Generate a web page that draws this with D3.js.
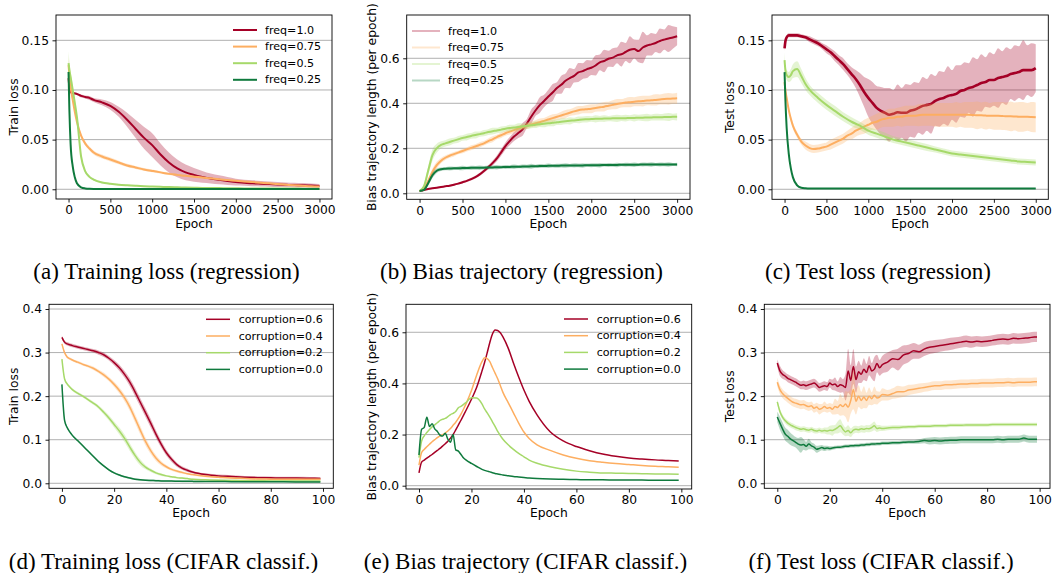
<!DOCTYPE html>
<html>
<head>
<meta charset="utf-8">
<script src="https://cdn.jsdelivr.net/npm/d3@7"></script>
<style>
  body { margin: 0; background: #fff; }
  svg { display: block; }
</style>
</head>
<body>
<div id="chart"></div>
<script>
// ---------- data ----------
var regTicks = [0, 500, 1000, 1500, 2000, 2500, 3000];
var regTickLabels = ["0", "500", "1000", "1500", "2000", "2500", "3000"];
var cifTicks = [0, 20, 40, 60, 80, 100];
var cifTickLabels = ["0", "20", "40", "60", "80", "100"];

var lossTicks = [0, 0.05, 0.10, 0.15];
var lossTickLabels = ["0.00", "0.05", "0.10", "0.15"];
var biasTicks = [0, 0.2, 0.4, 0.6];
var biasTickLabels = ["0.0", "0.2", "0.4", "0.6"];
var cifLossTicks = [0, 0.1, 0.2, 0.3, 0.4];
var cifLossTickLabels = ["0.0", "0.1", "0.2", "0.3", "0.4"];

var freqLabels = ["freq=1.0", "freq=0.75", "freq=0.5", "freq=0.25"];
var corrLabels = ["corruption=0.6", "corruption=0.4", "corruption=0.2", "corruption=0.0"];

var captions = ["(a) Training loss (regression)", "(b) Bias trajectory (regression)", "(c) Test loss (regression)",
  "(d) Training loss (CIFAR classif.)", "(e) Bias trajectory (CIFAR classif.)", "(f) Test loss (CIFAR classif.)"];

// epoch grids
var epochsA = [0,10,25,50,75,100,150,200,250,300,400,500,600,700,800,900,1000,1100,1200,1300,1400,1500,1600,1700,1800,1900,2000,2100,2200,2300,2400,2500,2600,2700,2800,2900,3000];
var epochsDg = [0,10,25,50,75,100,150,200,250,300,1000,2000,3000];
var epochsB = [0,50,100,150,200,250,300,350,400,450,500,550,600,650,700,750,800,850,900,950,1000,1050,1100,1150,1200,1250,1300,1350,1400,1450,1500,1550,1600,1650,1700,1750,1800,1850,1900,1950,2000,2050,2100,2150,2200,2250,2300,2350,2400,2450,2500,2550,2600,2650,2700,2750,2800,2850,2900,2950,3000];
var epochsC = [0,10,25,50,75,100,150,200,250,300,350,400,450,500,550,600,650,700,750,800,850,900,950,1000,1050,1100,1150,1200,1250,1300,1350,1400,1450,1500,1550,1600,1650,1700,1750,1800,1850,1900,1950,2000,2050,2100,2150,2200,2250,2300,2350,2400,2450,2500,2550,2600,2650,2700,2750,2800,2850,2900,2950,3000];
var epochsD = [0,1,2,3,4,6,8,10,12,14,16,18,20,22,24,26,28,30,32,34,36,38,40,42,44,46,48,50,55,60,65,70,75,80,85,90,95,99];
var epochsE = [0,1,2,3,4,5,6,7,8,9,10,11,12,13,14,15,16,17,18,20,22,24,25,26,27,28,29,30,31,32,34,36,38,40,42,45,50,55,60,65,70,75,80,85,90,95,99];
var epochsF = [0,1,2,3,4,5,6,7,8,9,10,11,12,13,14,15,16,17,18,19,20,21,22,23,24,25,26,27,28,29,30,31,32,33,34,35,36,37,38,39,40,42,44,46,48,50,52,54,56,58,60,62,64,66,68,70,72,74,76,78,80,82,84,86,88,90,92,94,96,98,99];

// (a) train loss, regression
var aRed = [0.112,0.103,0.098,0.097,0.0965,0.096,0.094,0.093,0.092,0.090,0.0875,0.084,0.078,0.070,0.061,0.052,0.0445,0.035,0.027,0.021,0.017,0.0145,0.0125,0.0108,0.0095,0.0083,0.0072,0.0066,0.0060,0.0056,0.0052,0.0048,0.0045,0.0042,0.0040,0.0037,0.0034];
var aRedSd = [0.005,0.003,0.002,0.001,0.001,0.001,0.0015,0.0015,0.002,0.002,0.003,0.004,0.005,0.007,0.009,0.011,0.012,0.011,0.010,0.009,0.008,0.007,0.006,0.005,0.0045,0.004,0.0035,0.003,0.003,0.0028,0.0026,0.0025,0.0024,0.0023,0.0022,0.0021,0.002];
var aOrange = [0.125,0.115,0.103,0.090,0.078,0.068,0.054,0.046,0.041,0.037,0.033,0.030,0.027,0.024,0.022,0.020,0.0185,0.017,0.0155,0.0145,0.0135,0.0127,0.0118,0.011,0.010,0.0093,0.0085,0.0078,0.0072,0.0066,0.006,0.0052,0.0046,0.004,0.0035,0.003,0.0027];
var aOrangeSd = [0.008,0.005,0.003,0.002,0.002,0.002,0.002,0.002,0.002,0.002,0.002,0.002,0.0018,0.0016,0.0015,0.0014,0.0013,0.0012,0.0011,0.001,0.001,0.001,0.001,0.0009,0.0009,0.0008,0.0008,0.0008,0.0007,0.0007,0.0007,0.0006,0.0006,0.0006,0.0005,0.0005,0.0005];
var aLgreen = [0.127,0.120,0.113,0.100,0.087,0.073,0.033,0.018,0.0125,0.0098,0.0068,0.0055,0.0046,0.004,0.0035,0.0031,0.0028,0.0025,0.0022,0.002,0.0018,0.0016,0.0014,0.0013,0.0012,0.0011,0.001,0.0009,0.0009,0.0008,0.0008,0.0007,0.0007,0.0007,0.0006,0.0006,0.0006];
var aLgreenSd = [0.012,0.009,0.006,0.004,0.003,0.003,0.002,0.0015,0.001,0.001,0.0008,0.0007,0.0006,0.0006,0.0005,0.0005,0.0005,0.0004,0.0004,0.0004,0.0004,0.0003,0.0003,0.0003,0.0003,0.0003,0.0003,0.0003,0.0003,0.0003,0.0003,0.0003,0.0003,0.0003,0.0003,0.0003,0.0003];
var aDgreen = [0.118,0.080,0.045,0.023,0.012,0.006,0.002,0.0008,0.0004,0.0003,0.0002,0.0002,0.0002];
var aDgreenSd = [0.006,0.005,0.004,0.002,0.001,0.0008,0.0004,0.0002,0.0001,0.0001,0.0001,0.0001,0.0001];

// (b) bias trajectory, regression
var bRed = [0.010,0.015,0.019,0.022,0.025,0.028,0.031,0.034,0.038,0.043,0.049,0.055,0.063,0.072,0.084,0.099,0.116,0.134,0.155,0.182,0.21,0.232,0.252,0.268,0.284,0.31,0.34,0.368,0.392,0.41,0.43,0.448,0.468,0.482,0.50,0.512,0.522,0.537,0.543,0.552,0.558,0.568,0.582,0.588,0.598,0.603,0.613,0.618,0.628,0.638,0.641,0.632,0.648,0.657,0.662,0.668,0.677,0.683,0.688,0.692,0.698];
var bRedSd = [0.002,0.002,0.003,0.003,0.003,0.003,0.003,0.004,0.004,0.004,0.005,0.005,0.006,0.006,0.007,0.008,0.009,0.011,0.013,0.015,0.016,0.018,0.020,0.022,0.028,0.020,0.032,0.025,0.035,0.028,0.030,0.038,0.026,0.040,0.032,0.045,0.030,0.042,0.035,0.040,0.032,0.045,0.035,0.050,0.036,0.042,0.035,0.055,0.040,0.060,0.042,0.050,0.070,0.045,0.050,0.040,0.055,0.045,0.060,0.050,0.040];
var bOrange = [0.010,0.020,0.055,0.095,0.125,0.145,0.158,0.167,0.174,0.181,0.188,0.195,0.202,0.208,0.215,0.222,0.232,0.240,0.250,0.258,0.267,0.274,0.281,0.288,0.294,0.300,0.306,0.311,0.316,0.322,0.328,0.334,0.340,0.346,0.352,0.358,0.364,0.369,0.372,0.374,0.376,0.379,0.382,0.385,0.389,0.393,0.397,0.400,0.403,0.405,0.407,0.409,0.410,0.412,0.413,0.415,0.417,0.419,0.420,0.421,0.422];
var bOrangeSd = [0.002,0.005,0.012,0.015,0.015,0.012,0.010,0.009,0.010,0.008,0.010,0.009,0.011,0.010,0.012,0.010,0.011,0.013,0.010,0.012,0.011,0.013,0.012,0.014,0.012,0.015,0.013,0.014,0.016,0.013,0.015,0.017,0.014,0.016,0.018,0.015,0.017,0.019,0.016,0.018,0.020,0.017,0.019,0.021,0.018,0.020,0.022,0.019,0.021,0.023,0.020,0.022,0.024,0.021,0.023,0.025,0.022,0.024,0.026,0.023,0.025];
var bLgreen = [0.010,0.030,0.100,0.170,0.200,0.215,0.222,0.228,0.234,0.240,0.246,0.250,0.255,0.259,0.263,0.267,0.272,0.276,0.279,0.283,0.287,0.290,0.292,0.295,0.298,0.300,0.302,0.305,0.307,0.309,0.311,0.313,0.316,0.318,0.320,0.322,0.324,0.326,0.328,0.329,0.330,0.331,0.331,0.332,0.332,0.333,0.333,0.334,0.334,0.335,0.335,0.336,0.336,0.337,0.337,0.338,0.338,0.339,0.339,0.340,0.340];
var bLgreenSd = [0.002,0.008,0.02,0.025,0.02,0.016,0.014,0.016,0.013,0.015,0.012,0.015,0.013,0.016,0.012,0.014,0.013,0.015,0.012,0.014,0.012,0.015,0.013,0.016,0.012,0.014,0.013,0.015,0.012,0.016,0.013,0.015,0.012,0.014,0.013,0.016,0.012,0.015,0.013,0.014,0.012,0.016,0.013,0.015,0.012,0.014,0.016,0.013,0.015,0.012,0.016,0.013,0.015,0.017,0.013,0.015,0.014,0.016,0.018,0.014,0.016];
var bDgreen = [0.010,0.015,0.045,0.080,0.100,0.107,0.109,0.110,0.111,0.111,0.112,0.112,0.113,0.113,0.114,0.114,0.115,0.115,0.116,0.116,0.117,0.117,0.118,0.118,0.119,0.119,0.120,0.120,0.121,0.121,0.122,0.122,0.122,0.123,0.123,0.123,0.124,0.124,0.124,0.125,0.125,0.125,0.125,0.126,0.126,0.126,0.126,0.127,0.127,0.127,0.127,0.127,0.128,0.128,0.128,0.128,0.128,0.128,0.128,0.128,0.128];
var bDgreenSd = [0.002,0.004,0.01,0.012,0.01,0.008,0.007,0.009,0.007,0.008,0.010,0.007,0.009,0.008,0.010,0.007,0.009,0.008,0.010,0.007,0.009,0.008,0.010,0.007,0.009,0.008,0.011,0.007,0.009,0.008,0.010,0.007,0.009,0.008,0.010,0.007,0.009,0.008,0.010,0.007,0.009,0.008,0.010,0.007,0.009,0.008,0.010,0.007,0.009,0.008,0.010,0.007,0.009,0.008,0.010,0.007,0.009,0.008,0.010,0.007,0.008];

// (c) test loss, regression
var cRed = [0.142,0.149,0.153,0.155,0.155,0.155,0.155,0.154,0.153,0.151,0.149,0.147,0.144,0.141,0.138,0.134,0.130,0.126,0.121,0.116,0.111,0.105,0.098,0.092,0.087,0.082,0.079,0.077,0.075,0.076,0.0775,0.077,0.077,0.079,0.080,0.082,0.084,0.085,0.086,0.089,0.091,0.092,0.094,0.095,0.096,0.099,0.100,0.102,0.103,0.105,0.107,0.108,0.110,0.110,0.112,0.113,0.114,0.116,0.117,0.118,0.120,0.120,0.120,0.122];
var cRedSd = [0.003,0.002,0.002,0.002,0.002,0.002,0.002,0.002,0.002,0.003,0.003,0.003,0.003,0.004,0.004,0.005,0.005,0.006,0.006,0.007,0.009,0.012,0.015,0.019,0.021,0.022,0.024,0.025,0.027,0.024,0.028,0.025,0.029,0.026,0.028,0.025,0.029,0.026,0.030,0.025,0.028,0.026,0.030,0.025,0.029,0.026,0.028,0.025,0.030,0.026,0.029,0.025,0.028,0.026,0.030,0.026,0.029,0.025,0.028,0.026,0.030,0.025,0.027,0.024];
var cOrange = [0.108,0.100,0.092,0.080,0.071,0.064,0.055,0.048,0.044,0.0415,0.0405,0.041,0.042,0.043,0.045,0.047,0.049,0.051,0.054,0.056,0.059,0.061,0.063,0.065,0.067,0.068,0.070,0.071,0.072,0.072,0.073,0.073,0.074,0.074,0.074,0.0745,0.075,0.075,0.075,0.075,0.075,0.075,0.075,0.075,0.075,0.075,0.075,0.075,0.0748,0.0745,0.0745,0.0742,0.074,0.074,0.074,0.0738,0.0735,0.0735,0.0733,0.073,0.073,0.073,0.0728,0.0725];
var cOrangeSd = [0.003,0.003,0.003,0.003,0.003,0.003,0.003,0.003,0.004,0.004,0.004,0.004,0.004,0.004,0.005,0.005,0.005,0.005,0.005,0.006,0.006,0.006,0.007,0.007,0.007,0.008,0.008,0.008,0.009,0.009,0.009,0.010,0.010,0.010,0.010,0.011,0.011,0.011,0.011,0.012,0.012,0.012,0.012,0.012,0.013,0.012,0.013,0.013,0.013,0.014,0.013,0.014,0.013,0.014,0.014,0.014,0.014,0.015,0.014,0.015,0.015,0.014,0.015,0.015];
var cLgreen = [0.130,0.120,0.115,0.113,0.115,0.119,0.121,0.114,0.106,0.100,0.092,0.085,0.079,0.073,0.068,0.064,0.059,0.056,0.053,0.050,0.048,0.046,0.044,0.042,0.040,0.038,0.036,0.035,0.034,0.033,0.032,0.031,0.030,0.029,0.028,0.0275,0.027];
var cLgreenSd = [0.008,0.006,0.005,0.005,0.006,0.007,0.008,0.007,0.006,0.005,0.005,0.005,0.005,0.0045,0.0045,0.004,0.004,0.004,0.004,0.0035,0.0035,0.0035,0.0035,0.0035,0.003,0.003,0.003,0.003,0.003,0.003,0.003,0.003,0.003,0.003,0.003,0.003,0.003];
var cDgreen = [0.118,0.090,0.062,0.036,0.021,0.012,0.004,0.0015,0.001,0.0008,0.0008,0.0008,0.0008];
var cDgreenSd = [0.004,0.004,0.004,0.003,0.002,0.001,0.0005,0.0003,0.0002,0.0002,0.0002,0.0002,0.0002];

// (d) train loss, CIFAR
var dRed = [0.335,0.324,0.320,0.318,0.316,0.313,0.310,0.307,0.304,0.300,0.295,0.287,0.277,0.265,0.250,0.232,0.210,0.186,0.162,0.138,0.113,0.090,0.070,0.055,0.043,0.035,0.030,0.026,0.020,0.017,0.0155,0.014,0.013,0.0125,0.012,0.012,0.0115,0.011];
var dRedSd = [0.004,0.004,0.004,0.004,0.004,0.004,0.004,0.004,0.004,0.005,0.005,0.005,0.006,0.007,0.008,0.009,0.010,0.010,0.010,0.010,0.009,0.008,0.007,0.006,0.005,0.004,0.004,0.003,0.003,0.003,0.003,0.003,0.003,0.003,0.003,0.003,0.003,0.003];
var dOrange = [0.320,0.300,0.290,0.286,0.283,0.278,0.273,0.269,0.264,0.257,0.249,0.239,0.227,0.213,0.196,0.175,0.149,0.122,0.096,0.075,0.058,0.046,0.038,0.032,0.028,0.025,0.022,0.020,0.016,0.014,0.012,0.011,0.010,0.0095,0.009,0.009,0.009,0.009];
var dOrangeSd = [0.003,0.003,0.003,0.003,0.003,0.003,0.003,0.003,0.004,0.004,0.005,0.005,0.006,0.007,0.008,0.009,0.010,0.010,0.009,0.008,0.007,0.005,0.004,0.003,0.003,0.003,0.002,0.002,0.002,0.002,0.002,0.002,0.002,0.002,0.002,0.002,0.002,0.002];
var dLgreen = [0.285,0.240,0.228,0.221,0.215,0.207,0.200,0.192,0.184,0.175,0.163,0.150,0.135,0.120,0.103,0.083,0.064,0.048,0.037,0.030,0.024,0.020,0.017,0.015,0.013,0.012,0.011,0.009,0.008,0.007,0.0065,0.006,0.006,0.0055,0.0055,0.005,0.005,0.005];
var dLgreenSd = [0.003,0.003,0.003,0.003,0.003,0.003,0.003,0.003,0.004,0.004,0.005,0.006,0.007,0.008,0.009,0.009,0.008,0.007,0.005,0.004,0.003,0.003,0.002,0.002,0.002,0.002,0.002,0.002,0.002,0.002,0.002,0.002,0.002,0.002,0.002,0.002,0.002,0.002];
var dDgreen = [0.227,0.145,0.128,0.118,0.110,0.098,0.086,0.074,0.062,0.050,0.040,0.031,0.024,0.019,0.015,0.012,0.0095,0.008,0.007,0.0065,0.006,0.0055,0.005,0.005,0.0048,0.0046,0.0045,0.0044,0.0042,0.004,0.0038,0.0036,0.0035,0.0034,0.0033,0.0032,0.0031,0.003];
var dDgreenSd = [0.004,0.003,0.003,0.002,0.002,0.002,0.002,0.002,0.002,0.002,0.002,0.002,0.002,0.002,0.002,0.002,0.002,0.002,0.002,0.002,0.002,0.002,0.002,0.002,0.002,0.002,0.002,0.002,0.001,0.001,0.001,0.001,0.001,0.001,0.001,0.001,0.001,0.001];

// (e) bias trajectory, CIFAR
var eRed = [0.050,0.092,0.100,0.108,0.115,0.122,0.130,0.138,0.146,0.155,0.164,0.174,0.186,0.200,0.218,0.237,0.256,0.276,0.296,0.338,0.385,0.448,0.482,0.520,0.560,0.593,0.609,0.607,0.598,0.582,0.538,0.480,0.425,0.374,0.330,0.277,0.211,0.175,0.153,0.137,0.124,0.115,0.108,0.104,0.101,0.099,0.097];
var eOrange = [0.080,0.130,0.142,0.152,0.162,0.172,0.180,0.188,0.195,0.200,0.206,0.214,0.224,0.236,0.248,0.263,0.280,0.300,0.322,0.372,0.433,0.485,0.500,0.497,0.485,0.462,0.440,0.418,0.392,0.365,0.325,0.285,0.245,0.210,0.185,0.160,0.138,0.120,0.107,0.098,0.092,0.087,0.083,0.079,0.076,0.074,0.072];
var eLgreen = [0.110,0.175,0.195,0.208,0.220,0.230,0.238,0.246,0.255,0.260,0.263,0.270,0.278,0.283,0.290,0.305,0.310,0.318,0.326,0.344,0.343,0.320,0.300,0.285,0.268,0.250,0.232,0.212,0.196,0.182,0.160,0.142,0.126,0.113,0.100,0.088,0.074,0.064,0.057,0.053,0.050,0.049,0.048,0.047,0.046,0.046,0.045];
var eDgreen = [0.120,0.220,0.228,0.268,0.232,0.242,0.222,0.212,0.198,0.194,0.205,0.182,0.170,0.200,0.140,0.135,0.122,0.108,0.100,0.087,0.075,0.064,0.060,0.057,0.054,0.051,0.048,0.046,0.044,0.042,0.039,0.036,0.034,0.032,0.030,0.028,0.026,0.025,0.024,0.023,0.023,0.022,0.022,0.022,0.021,0.021,0.021];

// (f) test loss, CIFAR
var fRed = [0.276,0.258,0.250,0.246,0.241,0.238,0.235,0.232,0.228,0.225,0.226,0.224,0.226,0.228,0.230,0.226,0.220,0.222,0.224,0.222,0.230,0.226,0.228,0.222,0.226,0.224,0.220,0.258,0.236,0.268,0.238,0.256,0.250,0.262,0.254,0.270,0.258,0.262,0.275,0.265,0.272,0.278,0.286,0.284,0.294,0.298,0.304,0.302,0.308,0.312,0.314,0.316,0.318,0.320,0.322,0.324,0.326,0.324,0.326,0.325,0.326,0.328,0.330,0.331,0.330,0.333,0.332,0.333,0.334,0.336,0.336];
var fRedSd = [0.008,0.012,0.010,0.009,0.009,0.009,0.009,0.009,0.009,0.009,0.010,0.010,0.010,0.010,0.010,0.010,0.010,0.010,0.010,0.010,0.010,0.012,0.015,0.012,0.018,0.015,0.030,0.050,0.035,0.040,0.030,0.025,0.020,0.025,0.020,0.022,0.018,0.028,0.020,0.018,0.020,0.022,0.020,0.025,0.022,0.020,0.018,0.016,0.016,0.015,0.015,0.014,0.014,0.014,0.013,0.013,0.013,0.013,0.012,0.012,0.012,0.012,0.012,0.012,0.012,0.012,0.012,0.012,0.012,0.012,0.012];
var fOrange = [0.232,0.215,0.206,0.200,0.195,0.190,0.186,0.184,0.182,0.180,0.181,0.178,0.176,0.178,0.172,0.175,0.170,0.172,0.176,0.172,0.174,0.170,0.176,0.174,0.180,0.176,0.182,0.175,0.190,0.215,0.188,0.200,0.190,0.198,0.190,0.200,0.194,0.202,0.196,0.198,0.204,0.202,0.206,0.210,0.210,0.214,0.216,0.218,0.220,0.222,0.224,0.224,0.226,0.226,0.227,0.228,0.228,0.229,0.229,0.230,0.230,0.230,0.231,0.231,0.232,0.231,0.232,0.232,0.232,0.233,0.233];
var fOrangeSd = [0.010,0.010,0.010,0.010,0.010,0.010,0.010,0.010,0.010,0.010,0.010,0.010,0.010,0.010,0.010,0.010,0.012,0.010,0.012,0.010,0.010,0.012,0.018,0.015,0.025,0.020,0.030,0.035,0.030,0.045,0.030,0.025,0.020,0.025,0.018,0.020,0.015,0.020,0.015,0.012,0.014,0.012,0.012,0.014,0.012,0.012,0.011,0.011,0.010,0.010,0.010,0.010,0.010,0.010,0.010,0.010,0.010,0.010,0.010,0.010,0.010,0.010,0.010,0.010,0.010,0.010,0.010,0.010,0.010,0.010,0.010];
var fLgreen = [0.187,0.165,0.152,0.144,0.138,0.134,0.131,0.128,0.126,0.124,0.125,0.123,0.122,0.124,0.121,0.120,0.122,0.120,0.121,0.120,0.122,0.121,0.124,0.128,0.132,0.124,0.118,0.121,0.116,0.122,0.124,0.123,0.125,0.124,0.126,0.125,0.128,0.132,0.126,0.127,0.126,0.127,0.128,0.128,0.129,0.130,0.130,0.131,0.131,0.131,0.132,0.132,0.132,0.133,0.133,0.133,0.134,0.134,0.134,0.134,0.134,0.135,0.135,0.135,0.135,0.135,0.135,0.135,0.135,0.135,0.135];
var fLgreenSd = [0.006,0.006,0.006,0.006,0.006,0.006,0.006,0.006,0.006,0.006,0.006,0.006,0.006,0.006,0.006,0.006,0.006,0.006,0.007,0.008,0.010,0.012,0.010,0.014,0.015,0.012,0.010,0.012,0.010,0.009,0.008,0.008,0.008,0.008,0.008,0.008,0.009,0.010,0.008,0.007,0.006,0.005,0.005,0.005,0.004,0.004,0.004,0.004,0.004,0.004,0.004,0.004,0.004,0.004,0.004,0.004,0.004,0.004,0.004,0.004,0.004,0.004,0.004,0.004,0.004,0.004,0.004,0.004,0.004,0.004,0.004];
var fDgreen = [0.152,0.138,0.125,0.113,0.108,0.102,0.098,0.094,0.090,0.088,0.089,0.085,0.090,0.086,0.083,0.078,0.080,0.082,0.080,0.081,0.080,0.081,0.082,0.083,0.083,0.084,0.085,0.085,0.086,0.086,0.087,0.087,0.088,0.088,0.089,0.089,0.090,0.090,0.091,0.091,0.092,0.092,0.093,0.093,0.094,0.095,0.095,0.096,0.098,0.097,0.098,0.097,0.098,0.099,0.099,0.100,0.100,0.100,0.100,0.100,0.100,0.100,0.101,0.100,0.101,0.101,0.101,0.104,0.101,0.101,0.101];
var fDgreenSd = [0.012,0.015,0.015,0.015,0.015,0.014,0.013,0.012,0.014,0.018,0.012,0.010,0.012,0.008,0.008,0.008,0.007,0.006,0.006,0.005,0.005,0.004,0.004,0.004,0.004,0.004,0.004,0.004,0.004,0.004,0.004,0.004,0.004,0.004,0.004,0.004,0.004,0.004,0.004,0.004,0.004,0.004,0.004,0.004,0.004,0.004,0.004,0.005,0.006,0.008,0.008,0.008,0.008,0.008,0.008,0.008,0.008,0.008,0.008,0.008,0.008,0.008,0.008,0.008,0.008,0.008,0.008,0.008,0.008,0.008,0.008];

// ---------- drawing ----------
var colors = ["#a50026", "#fdae61", "#a6d96a", "#0f7a3d"];
var font = "DejaVu Sans, sans-serif";

var svg = d3.select("#chart").append("svg")
  .attr("width", 1055)
  .attr("height", 573);
svg.append("rect").attr("width", 1055).attr("height", 573).attr("fill", "#fff");

function drawPanel(p) {
  var x = d3.scaleLinear().domain(p.xDomain).range([p.box[0], p.box[1]]);
  var y = d3.scaleLinear().domain(p.yDomain).range([p.box[3], p.box[2]]);
  var w = p.box[1] - p.box[0], h = p.box[3] - p.box[2];
  var g = svg.append("g");

  svg.append("clipPath").attr("id", "clip-" + p.id)
    .append("rect").attr("x", p.box[0]).attr("y", p.box[2]).attr("width", w).attr("height", h);

  // horizontal grid
  g.selectAll(".grid").data(p.yTicks).enter().append("line")
    .attr("x1", p.box[0]).attr("x2", p.box[1])
    .attr("y1", d => y(d)).attr("y2", d => y(d))
    .attr("stroke", "#b0b0b0").attr("stroke-width", 1);

  var plot = g.append("g").attr("clip-path", "url(#clip-" + p.id + ")");
  p.series.forEach(function(s, i) {
    var pts = s.x.map((e, k) => ({ e: e, m: s.y[k], sd: s.sd ? s.sd[k] : 0 }));
    if (s.sd) {
      plot.append("path").datum(pts)
        .attr("d", d3.area().curve(d3.curveMonotoneX)
          .x(d => x(d.e)).y0(d => y(d.m - d.sd)).y1(d => y(d.m + d.sd)))
        .attr("fill", colors[i]).attr("fill-opacity", 0.3);
    }
    plot.append("path").datum(pts)
      .attr("d", d3.line().curve(d3.curveMonotoneX).x(d => x(d.e)).y(d => y(d.m)))
      .attr("fill", "none").attr("stroke", colors[i]).attr("stroke-width", s.lw || p.lw)
      .attr("stroke-linejoin", "round");
  });

  // axes
  var xAxis = d3.axisBottom(x).tickValues(p.xTicks).tickFormat((d, i) => p.xLabels[i])
    .tickSize(3.5).tickSizeOuter(0).tickPadding(3);
  var yAxis = d3.axisLeft(y).tickValues(p.yTicks).tickFormat((d, i) => p.yLabels[i])
    .tickSize(3.5).tickSizeOuter(0).tickPadding(3.5);
  [g.append("g").attr("transform", `translate(0,${p.box[3]})`).call(xAxis),
   g.append("g").attr("transform", `translate(${p.box[0]},0)`).call(yAxis)].forEach(function(ax) {
    ax.select(".domain").remove();
    ax.selectAll("line").attr("stroke", "#000").attr("stroke-width", 0.9);
    ax.selectAll("text").attr("fill", "#000").style("font-family", font).style("font-size", "12.3px");
  });

  g.append("rect")
    .attr("x", p.box[0]).attr("y", p.box[2]).attr("width", w).attr("height", h)
    .attr("fill", "none").attr("stroke", "#000").attr("stroke-width", 0.9);

  // axis labels
  g.append("text")
    .attr("x", (p.box[0] + p.box[1]) / 2).attr("y", p.xLabelY)
    .attr("text-anchor", "middle")
    .style("font-family", font).style("font-size", "12.3px")
    .text("Epoch");
  g.append("text")
    .attr("transform", `translate(${p.yLabelX},${(p.box[2] + p.box[3]) / 2}) rotate(-90)`)
    .attr("text-anchor", "middle").attr("dominant-baseline", "central")
    .style("font-family", font).style("font-size", "12.3px")
    .text(p.yTitle);

  // legend
  if (p.legend) {
    var L = p.legend;
    L.labels.forEach(function(lab, i) {
      var yy = L.y0 + i * L.dy;
      g.append("line").attr("x1", L.x0).attr("x2", L.x1).attr("y1", yy).attr("y2", yy)
        .attr("stroke", colors[i]).attr("stroke-width", p.lw)
        .attr("stroke-opacity", L.faded ? 0.3 : 1);
      g.append("text").attr("x", L.tx).attr("y", yy)
        .attr("dominant-baseline", "central")
        .style("font-family", font).style("font-size", "11.1px")
        .text(lab);
    });
  }
}

drawPanel({
  id: "a", box: [56, 332, 15, 199], xDomain: [-150, 3150], yDomain: [-0.0098, 0.1755],
  xTicks: regTicks, xLabels: regTickLabels, yTicks: lossTicks, yLabels: lossTickLabels,
  yTitle: "Train loss", yLabelX: 14, xLabelY: 228, lw: 2,
  series: [
    { x: epochsA, y: aRed, sd: aRedSd },
    { x: epochsA, y: aOrange, sd: aOrangeSd },
    { x: epochsA, y: aLgreen, sd: aLgreenSd },
    { x: epochsDg, y: aDgreen, sd: aDgreenSd }
  ],
  legend: { labels: freqLabels, x0: 233, x1: 257, tx: 265, y0: 30, dy: 16.6, faded: false }
});

drawPanel({
  id: "b", box: [406.7, 690, 15, 199.3], xDomain: [-150, 3150], yDomain: [-0.0267, 0.7924],
  xTicks: regTicks, xLabels: regTickLabels, yTicks: biasTicks, yLabels: biasTickLabels,
  yTitle: "Bias trajectory length (per epoch)", yLabelX: 372, xLabelY: 228, lw: 2,
  series: [
    { x: epochsB, y: bRed, sd: bRedSd },
    { x: epochsB, y: bOrange, sd: bOrangeSd },
    { x: epochsB, y: bLgreen, sd: bLgreenSd },
    { x: epochsB, y: bDgreen, sd: bDgreenSd }
  ],
  legend: { labels: freqLabels, x0: 412, x1: 440, tx: 448, y0: 31, dy: 16.5, faded: true }
});

drawPanel({
  id: "c", box: [772, 1048.3, 15, 199.3], xDomain: [-150, 3150], yDomain: [-0.0101, 0.1755],
  xTicks: regTicks, xLabels: regTickLabels, yTicks: lossTicks, yLabels: lossTickLabels,
  yTitle: "Test loss", yLabelX: 730, xLabelY: 228, lw: 2,
  series: [
    { x: epochsC, y: cRed, sd: cRedSd, lw: 2.6 },
    { x: epochsC, y: cOrange, sd: cOrangeSd },
    { x: epochsA, y: cLgreen, sd: cLgreenSd },
    { x: epochsDg, y: cDgreen, sd: cDgreenSd }
  ],
  legend: null
});

drawPanel({
  id: "d", box: [49, 333.3, 304.3, 488.3], xDomain: [-4.95, 103.95], yDomain: [-0.0115, 0.4108],
  xTicks: cifTicks, xLabels: cifTickLabels, yTicks: cifLossTicks, yLabels: cifLossTickLabels,
  yTitle: "Train loss", yLabelX: 14, xLabelY: 517, lw: 1.5,
  series: [
    { x: epochsD, y: dRed, sd: dRedSd },
    { x: epochsD, y: dOrange, sd: dOrangeSd },
    { x: epochsD, y: dLgreen, sd: dLgreenSd },
    { x: epochsD, y: dDgreen, sd: dDgreenSd }
  ],
  legend: { labels: corrLabels, x0: 206, x1: 230, tx: 238.7, y0: 319.3, dy: 16.7, faded: false }
});

drawPanel({
  id: "e", box: [406, 691.7, 304.3, 489], xDomain: [-4.95, 103.95], yDomain: [-0.0129, 0.7094],
  xTicks: cifTicks, xLabels: cifTickLabels, yTicks: biasTicks, yLabels: biasTickLabels,
  yTitle: "Bias trajectory length (per epoch)", yLabelX: 372, xLabelY: 517, lw: 1.5,
  series: [
    { x: epochsE, y: eRed },
    { x: epochsE, y: eOrange },
    { x: epochsE, y: eLgreen },
    { x: epochsE, y: eDgreen }
  ],
  legend: { labels: corrLabels, x0: 564, x1: 588, tx: 596.7, y0: 319, dy: 16.7, faded: false }
});

drawPanel({
  id: "f", box: [764.3, 1050, 304.3, 488.3], xDomain: [-4.95, 103.95], yDomain: [-0.0115, 0.4108],
  xTicks: cifTicks, xLabels: cifTickLabels, yTicks: cifLossTicks, yLabels: cifLossTickLabels,
  yTitle: "Test loss", yLabelX: 730, xLabelY: 517, lw: 1.5,
  series: [
    { x: epochsF, y: fRed, sd: fRedSd },
    { x: epochsF, y: fOrange, sd: fOrangeSd },
    { x: epochsF, y: fLgreen, sd: fLgreenSd },
    { x: epochsF, y: fDgreen, sd: fDgreenSd }
  ],
  legend: null
});

// sub-figure captions
var capX = [166.5, 521.5, 878, 163.5, 525.5, 881];
var capY = [279, 279, 279, 569, 569, 569];
svg.selectAll(".caption").data(captions).enter().append("text")
  .attr("x", (d, i) => capX[i]).attr("y", (d, i) => capY[i])
  .attr("text-anchor", "middle")
  .style("font-family", "Liberation Serif, serif").style("font-size", "23px")
  .text(d => d);
</script>
</body>
</html>
